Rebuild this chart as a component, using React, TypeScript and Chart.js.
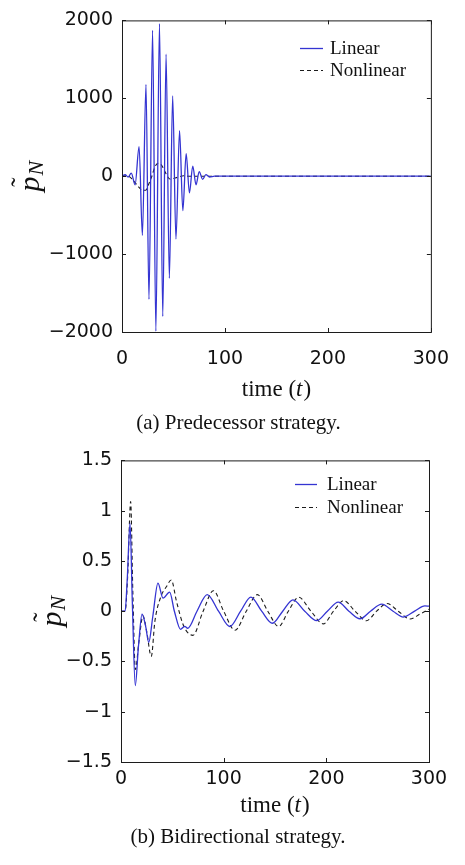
import React, { useEffect, useRef } from 'react';
import { Chart, registerables } from 'chart.js';

Chart.register(...registerables);

// ---------- Data ----------
// Panel (a) Predecessor strategy
const timeLinearA = [0, 3, 6, 9, 12.7, 16.6, 19.8, 23.3, 26.2, 29.7, 32.9, 36.4, 39.6, 42.8, 46, 49.2, 52.4, 55.9, 59.1, 62.3, 65.5, 68.7, 71.9, 75, 78.3, 81.5, 85, 90, 300];
const linearA = [0, 20, -10, 40, -110, 380, -760, 1177, -1580, 1873, -1990, 1958, -1800, 1566, -1310, 1030, -806, 586, -443, 291, -215, 130, -110, 60, -40, 20, -10, 0, 0];
const timeNonlinearA = [0, 5, 10, 15, 20, 23, 26, 29, 32, 35, 38, 41, 44, 47, 50, 55, 60, 65, 300];
const nonlinearA = [0, 5, -40, -120, -180, -180, -100, 0, 120, 165, 150, 80, 0, -40, -30, -10, 5, 0, 0];

// Panel (b) Bidirectional strategy
const timeLinearB = [0, 4, 6, 8.8, 11, 13.9, 17, 20.5, 24, 27, 31, 36, 40.9, 47.4, 52, 58, 62, 65, 74, 84, 95, 106, 116.5, 126.5, 137, 147.5, 157.5, 167.5, 179, 190.6, 201, 211.6, 222, 232.8, 243, 254, 265, 275, 286, 296, 300];
const linearB = [0, 0, 0.3, 0.877, 0.1, -0.74, -0.35, -0.03, -0.15, -0.31, -0.05, 0.28, 0.13, 0.19, 0, -0.18, -0.15, -0.17, 0, 0.165, 0, -0.152, 0, 0.14, 0, -0.12, 0, 0.113, 0, -0.094, 0, 0.09, 0, -0.075, 0, 0.07, 0, -0.058, 0, 0.052, 0.05];
const timeNonlinearB = [0, 4, 6.5, 9.4, 11.5, 14, 17.5, 21.4, 25, 29.5, 33, 39, 44, 49, 54, 60, 64, 70, 80, 90, 100, 111, 122, 132.8, 143, 153.5, 163, 173, 185, 197, 207, 217, 228, 239, 249, 259, 270, 281.5, 291, 300];
const nonlinearB = [0, 0, 0.35, 1.09, 0.2, -0.58, -0.3, -0.045, -0.2, -0.45, -0.1, 0.15, 0.24, 0.31, 0.1, -0.12, -0.2, -0.24, 0, 0.204, 0, -0.19, 0, 0.165, 0, -0.152, 0, 0.139, 0, -0.126, 0, 0.105, 0, -0.095, 0, 0.077, 0, -0.078, -0.03, 0.02];

const xTicks = [0, 100, 200, 300];
const yTicksA = [-2000, -1000, 0, 1000, 2000];
const yTicksB = [-1.5, -1, -0.5, 0, 0.5, 1, 1.5];
const seriesNames = ['Linear', 'Nonlinear'];
const captions = ['(a) Predecessor strategy.', '(b) Bidirectional strategy.'];

// ---------- Styling ----------
const BLUE = '#3434d2';
const DARK = '#1c1c1c';
const SERIF = '"Liberation Serif", "Times New Roman", serif';
const SANS = '"DejaVu Sans", Arial, sans-serif';

type PanelSpec = {
  width: number;
  height: number;
  area: { left: number; top: number; right: number; bottom: number };
  yMin: number;
  yMax: number;
  yTicks: number[];
  tLin: number[];
  vLin: number[];
  tNon: number[];
  vNon: number[];
  xTickPad: number;
  xTitleY: number;
  captionX: number;
  captionY: number;
  caption: string;
  yLabelX: number;
  legend: { x0: number; x1: number; tx: number; y1: number; y2: number };
};

const fmt = (v: number) => (v < 0 ? '\u2212' + String(Math.abs(v)) : String(v));

function decorPlugin(p: PanelSpec) {
  return {
    id: 'decor',
    afterDraw(chart: any) {
      const { ctx, chartArea: a, scales } = chart;
      ctx.save();
      // box
      ctx.strokeStyle = DARK;
      ctx.lineWidth = 1;
      ctx.setLineDash([]);
      ctx.strokeRect(a.left + 0.5, a.top + 0.5, a.right - a.left, a.bottom - a.top);
      // inward ticks on all four sides
      const tl = 4;
      ctx.beginPath();
      scales.x.ticks.forEach((t: any) => {
        const x = Math.round(scales.x.getPixelForValue(t.value)) + 0.5;
        ctx.moveTo(x, a.bottom);
        ctx.lineTo(x, a.bottom - tl);
        ctx.moveTo(x, a.top);
        ctx.lineTo(x, a.top + tl);
      });
      scales.y.ticks.forEach((t: any) => {
        const y = Math.round(scales.y.getPixelForValue(t.value)) + 0.5;
        ctx.moveTo(a.left, y);
        ctx.lineTo(a.left + tl, y);
        ctx.moveTo(a.right, y);
        ctx.lineTo(a.right - tl, y);
      });
      ctx.stroke();

      // legend
      const ds = chart.data.datasets;
      const L = p.legend;
      ctx.font = `19px ${SERIF}`;
      ctx.textBaseline = 'middle';
      ctx.textAlign = 'left';
      ctx.fillStyle = '#111';
      [L.y1, L.y2].forEach((yy, i) => {
        ctx.beginPath();
        ctx.strokeStyle = ds[i].borderColor;
        ctx.lineWidth = ds[i].borderWidth;
        ctx.setLineDash(ds[i].borderDash || []);
        ctx.moveTo(L.x0, yy + 0.5);
        ctx.lineTo(L.x1, yy + 0.5);
        ctx.stroke();
        ctx.setLineDash([]);
        ctx.fillText(ds[i].label, L.tx, yy + 1);
      });

      // x-axis title: time (t)
      const cx = (a.left + a.right) / 2;
      ctx.textBaseline = 'middle';
      const fUp = `23px ${SERIF}`;
      const fIt = `italic 23px ${SERIF}`;
      ctx.font = fUp;
      const w1 = ctx.measureText('time (').width;
      const w3 = ctx.measureText(')').width;
      ctx.font = fIt;
      const w2 = ctx.measureText('t').width + 1;
      let x = cx - (w1 + w2 + w3) / 2;
      ctx.font = fUp;
      ctx.fillText('time (', x, p.xTitleY);
      x += w1;
      ctx.font = fIt;
      ctx.fillText('t', x, p.xTitleY);
      x += w2;
      ctx.font = fUp;
      ctx.fillText(')', x, p.xTitleY);

      // caption
      ctx.font = `21px ${SERIF}`;
      ctx.textAlign = 'center';
      ctx.fillText(p.caption, p.captionX, p.captionY);

      // y-axis label: p~ with subscript N, rotated
      const cy = (a.top + a.bottom) / 2;
      ctx.translate(p.yLabelX, cy);
      ctx.rotate(-Math.PI / 2);
      ctx.textAlign = 'left';
      ctx.textBaseline = 'alphabetic';
      const fp = `italic 30px ${SERIF}`;
      const fn = `italic 22px ${SERIF}`;
      ctx.font = fp;
      const wp = ctx.measureText('p').width;
      ctx.font = fn;
      const wn = ctx.measureText('N').width;
      const start = -(wp + wn + 1) / 2;
      ctx.font = fp;
      ctx.fillText('p', start, 0);
      ctx.font = `28px ${SERIF}`;
      ctx.textAlign = 'center';
      ctx.fillText('\u02DC', start + wp / 2 + 2, -9);
      ctx.textAlign = 'left';
      ctx.font = fn;
      ctx.fillText('N', start + wp + 1, 4);
      ctx.restore();
    },
  };
}

function Panel({ p }: { p: PanelSpec }) {
  const ref = useRef<HTMLCanvasElement | null>(null);
  useEffect(() => {
    if (!ref.current) return;
    const linPts = p.tLin.map((t, i) => ({ x: t, y: p.vLin[i] }));
    const nonPts = p.tNon.map((t, i) => ({ x: t, y: p.vNon[i] }));
    const chart = new Chart(ref.current, {
      type: 'line',
      data: {
        datasets: [
          {
            label: seriesNames[0],
            data: linPts,
            borderColor: BLUE,
            borderWidth: 1.3,
            pointRadius: 0,
            cubicInterpolationMode: 'monotone',
            fill: false,
          } as any,
          {
            label: seriesNames[1],
            data: nonPts,
            borderColor: DARK,
            borderWidth: 1.1,
            borderDash: [4, 3],
            pointRadius: 0,
            cubicInterpolationMode: 'monotone',
            fill: false,
          } as any,
        ],
      },
      options: {
        responsive: false,
        animation: false,
        events: [],
        layout: {
          padding: {
            left: 0,
            top: p.area.top,
            right: p.width - p.area.right,
            bottom: 0,
          },
        },
        plugins: {
          legend: { display: false },
          tooltip: { enabled: false },
        },
        scales: {
          x: {
            type: 'linear',
            min: 0,
            max: 300,
            grid: { display: false, drawTicks: false },
            border: { display: false },
            afterBuildTicks: (s: any) => {
              s.ticks = xTicks.map((v) => ({ value: v }));
            },
            afterFit: (s: any) => {
              s.height = p.height - p.area.bottom;
            },
            ticks: {
              padding: p.xTickPad,
              color: '#111',
              font: { family: SANS, size: 19 },
              maxRotation: 0,
              callback: (v: any) => fmt(Number(v)),
            },
          },
          y: {
            type: 'linear',
            min: p.yMin,
            max: p.yMax,
            grid: { display: false, drawTicks: false },
            border: { display: false },
            afterBuildTicks: (s: any) => {
              s.ticks = p.yTicks.map((v) => ({ value: v }));
            },
            afterFit: (s: any) => {
              s.width = p.area.left;
            },
            ticks: {
              padding: 9,
              color: '#111',
              font: { family: SANS, size: 19 },
              callback: (v: any) => fmt(Number(v)),
            },
          },
        },
      } as any,
      plugins: [decorPlugin(p)],
    });
    return () => chart.destroy();
  }, [p]);
  return <canvas ref={ref} width={p.width} height={p.height} style={{ display: 'block' }} />;
}

const panelA: PanelSpec = {
  width: 465,
  height: 440,
  area: { left: 122, top: 15, right: 435, bottom: 332 },
  yMin: -2000,
  yMax: 2000,
  yTicks: yTicksA,
  tLin: timeLinearA,
  vLin: linearA,
  tNon: timeNonlinearA,
  vNon: nonlinearA,
  xTickPad: 16,
  xTitleY: 390,
  captionX: 238.5,
  captionY: 423,
  caption: captions[0],
  yLabelX: 39,
  legend: { x0: 300, x1: 323, tx: 330, y1: 48, y2: 70 },
};

const panelB: PanelSpec = {
  width: 465,
  height: 425,
  area: { left: 121, top: 13, right: 429, bottom: 322 },
  yMin: -1.5,
  yMax: 1.5,
  yTicks: yTicksB,
  tLin: timeLinearB,
  vLin: linearB,
  tNon: timeNonlinearB,
  vNon: nonlinearB,
  xTickPad: 6,
  xTitleY: 366,
  captionX: 238,
  captionY: 397,
  caption: captions[1],
  yLabelX: 61,
  legend: { x0: 295, x1: 317, tx: 327, y1: 44, y2: 67 },
};

export default function App() {
  return (
    <div style={{ position: 'absolute', left: 0, top: 0, width: 465, height: 865, background: '#fff' }}>
      <Panel p={panelA} />
      <Panel p={panelB} />
    </div>
  );
}
